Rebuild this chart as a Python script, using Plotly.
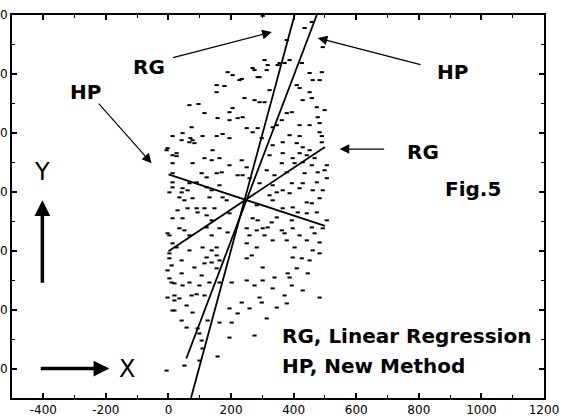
import plotly.graph_objects as go

# ---------------- data ----------------
pts_x = [189,227,154,179,154,67,96,115,195,205,157,195,221,74,13,45,42,70,109,154,173,195,
         301,435,458,493,378,307,275,314,349,371,426,451,490,461,483,291,234,323,410,419,451,
         243,275,291,307,429,458,474,237,499,362,378,394,419,451,477,483,250,269,285,333,346,
         387,419,490,483,298,
         -3,13,26,67,83,141,115,138,163,77,13,195,170,106,154,122,67,90,221,13,45,61,122,138,163,
         3,35,51,77,131,173,186,29,61,90,115,147,13,45,93,122,138,195,35,51,122,163,189,3,67,138,
         26,109,138,154,3,67,42,122,154,10,83,115,138,163,154,
         333,365,410,429,451,490,323,365,397,419,442,467,362,403,429,458,506,234,250,314,339,378,
         435,477,499,237,259,394,429,474,506,291,333,346,365,387,419,461,493,323,333,442,458,483,
         282,365,397,413,442,474,506,269,285,330,346,394,250,282,301,317,362,397,458,493,259,307,
         371,419,467,333,378,442,483,250,403,461,282,250,266,397,426,451,483,301,410,
         3,19,42,45,67,106,131,99,163,202,-3,19,35,74,90,115,58,77,19,195,221,42,125,163,202,58,
         93,99,195,106,109,99,157,-6,51,
         250,275,301,333,339,381,387,394,429,445,234,259,291,298,346,371,378,483,314,275,
         -3,13,3,-3,10,19,13,
         -6,26,13,13,42,77,
         387,355,317,269,285,205]
pts_y = [1006,979,962,959,938,894,898,867,870,884,850,843,850,819,789,799,775,782,789,789,796,782,
         1197,1156,1176,1091,1115,1047,1013,1013,1030,1037,1037,1003,1006,979,979,989,983,945,962,952,938,
         918,911,904,904,911,918,887,853,877,843,867,870,826,826,853,833,816,802,816,819,826,
         792,789,789,802,782,
         748,724,721,768,765,741,714,707,714,697,697,690,666,663,663,649,629,632,656,632,612,605,615,605,622,
         598,581,571,578,581,581,571,537,544,544,544,544,510,510,530,520,503,527,476,469,479,476,462,452,452,452,
         411,411,401,411,374,401,367,377,384,350,343,357,360,367,340,
         758,768,765,751,741,768,724,731,714,731,724,714,697,697,700,690,690,707,683,673,656,666,
         663,666,673,656,646,629,629,632,646,629,622,598,605,595,612,605,605,588,571,564,561,578,
         554,544,547,530,527,530,503,510,503,496,513,503,476,469,476,479,469,476,479,476,452,452,
         459,452,459,435,435,435,428,425,411,401,411,374,384,377,374,367,391,343,340,
         306,289,323,282,292,316,292,282,292,292,241,248,238,248,252,248,214,190,197,204,187,163,163,156,156,139,
         136,119,105,95,68,27,41,-7,10,
         299,282,299,272,309,323,309,282,265,323,224,204,241,224,207,248,221,241,170,112,
         459,425,391,333,292,231,197,
         741,731,663,615,598,775,
         1047,1037,1030,1020,989,996]

# fitted lines (end points)
rg_line_x = [0, 500]          # RG, regression of Y on X
rg_line_y = [398, 752]
hp_line_x = [0, 500]          # HP, shallow line
hp_line_y = [659, 484]
rg_steep_x = [403, 72]        # RG, regression of X on Y
rg_steep_y = [1200, -100]
hp_steep_x = [474, 57]        # HP, steep line
hp_steep_y = [1200, 34]

x_tickvals = [-400, -200, 0, 200, 400, 600, 800, 1000, 1200]
x_ticktext = ["-400", "-200", "0", "200", "400", "600", "800", "1000", "1200"]
y_tickvals = [0, 200, 400, 600, 800, 1000, 1200]
y_ticktext = ["0", "200", "400", "600", "800", "1000", "1200"]

FONT = "DejaVu Sans"

fig = go.Figure()
fig.add_trace(go.Scatter(x=pts_x, y=pts_y, mode="markers",
                         marker=dict(symbol="line-ew", size=3, color="black",
                                     line=dict(color="black", width=2)),
                         hoverinfo="skip", showlegend=False))
for lx, ly in [(rg_line_x, rg_line_y), (hp_line_x, hp_line_y),
               (rg_steep_x, rg_steep_y), (hp_steep_x, hp_steep_y)]:
    fig.add_trace(go.Scatter(x=lx, y=ly, mode="lines",
                             line=dict(color="black", width=1.8),
                             hoverinfo="skip", showlegend=False))

# annotations: label text, arrows
def arrow(tail, tip, width=1.2, size=1.6):
    fig.add_annotation(x=tip[0], y=tip[1], ax=tail[0], ay=tail[1],
                       xref="x", yref="y", axref="x", ayref="y",
                       text="", showarrow=True, arrowhead=2,
                       arrowsize=size, arrowwidth=width, arrowcolor="black")

arrow((10, 1054), (330, 1142))
arrow((810, 1030), (477, 1122))
arrow((-227, 904), (-54, 697))
arrow((694, 745), (547, 745))
arrow((-403, 286), (-403, 571), width=3.5, size=0.9)
arrow((-413, 0), (-189, 0), width=3.5, size=0.9)

def label(x, y, txt, size=20, bold=True, xanchor="center"):
    fig.add_annotation(x=x, y=y, xref="x", yref="y", text=txt, showarrow=False,
                       xanchor=xanchor, yanchor="middle",
                       font=dict(family=FONT, size=size, color="black",
                                 weight="bold" if bold else "normal"))

label(-61, 1023, "RG")
label(906, 1006, "HP")
label(-266, 938, "HP")
label(813, 734, "RG")
label(973, 609, "Fig.5")
label(355, 112, "RG, Linear Regression", xanchor="left")
label(355, 7, "HP, New Method", xanchor="left")
label(-403, 666, "Y", size=24, bold=False)
label(-134, 0, "X", size=24, bold=False)

axis_common = dict(showgrid=False, zeroline=False, showline=True, linecolor="black",
                   linewidth=2, mirror="ticks", ticks="inside", ticklen=5, tickwidth=1.5,
                   tickcolor="black", automargin=False,
                   tickfont=dict(family=FONT, size=12, color="black"))

fig.update_xaxes(range=[-500, 1200], tickmode="array", tickvals=x_tickvals, ticktext=x_ticktext,
                 minor=dict(ticks="inside", ticklen=3, tickwidth=1.2, tickcolor="black", dtick=100),
                 **axis_common)
fig.update_yaxes(range=[-100, 1200], tickmode="array", tickvals=y_tickvals, ticktext=y_ticktext,
                 minor=dict(ticks="inside", ticklen=3, tickwidth=1.2, tickcolor="black", dtick=100),
                 **axis_common)

fig.update_layout(width=564, height=416, margin=dict(l=12, r=20, t=15, b=18),
                  plot_bgcolor="white", paper_bgcolor="white",
                  font=dict(family=FONT, color="black"))

fig.write_html("out.html", config={"displayModeBar": False},
               post_script="document.body.style.margin='0';document.body.style.overflow='hidden';")
